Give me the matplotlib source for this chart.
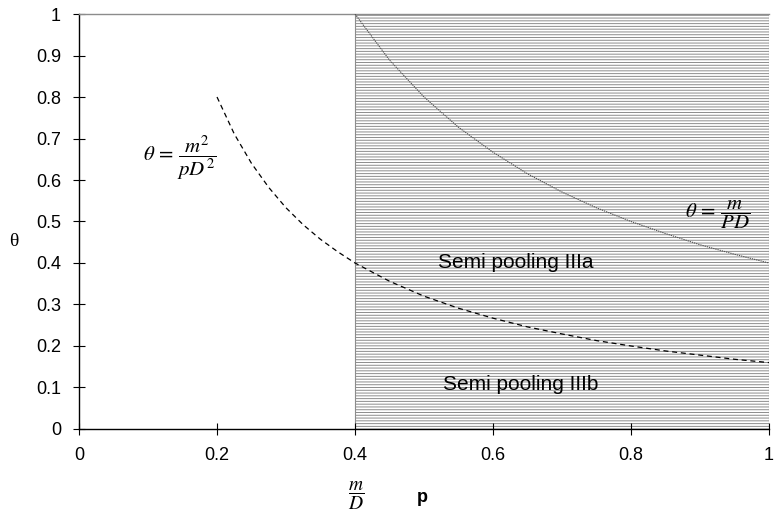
import matplotlib
matplotlib.use("Agg")
import matplotlib.pyplot as plt

plt.rcParams['font.family'] = ['Liberation Sans', 'DejaVu Sans']
plt.rcParams['mathtext.fontset'] = 'stix'
plt.rcParams['hatch.linewidth'] = 0.7
plt.rcParams['hatch.color'] = '#8c8c8c'

# Data
p_lower = [0.2, 0.225, 0.25, 0.275, 0.3, 0.325, 0.35, 0.375, 0.4, 0.45, 0.5, 0.55,
           0.6, 0.65, 0.7, 0.75, 0.8, 0.85, 0.9, 0.95, 1.0]
theta_lower = [0.8, 0.711, 0.64, 0.582, 0.533, 0.492, 0.457, 0.427, 0.4, 0.356, 0.32,
               0.291, 0.267, 0.246, 0.229, 0.213, 0.2, 0.188, 0.178, 0.168, 0.16]
p_upper = [0.4, 0.45, 0.5, 0.55, 0.6, 0.65, 0.7, 0.75, 0.8, 0.85, 0.9, 0.95, 1.0]
theta_upper = [1.0, 0.889, 0.8, 0.727, 0.667, 0.615, 0.571, 0.533, 0.5, 0.471, 0.444,
               0.421, 0.4]
region_x = [0.4, 1.0]
region_y = [0.0, 1.0]
x_ticks = [0, 0.2, 0.4, 0.6, 0.8, 1]
x_labels = ['0', '0.2', '0.4', '0.6', '0.8', '1']
y_ticks = [0, 0.1, 0.2, 0.3, 0.4, 0.5, 0.6, 0.7, 0.8, 0.9, 1]
y_labels = ['0', '0.1', '0.2', '0.3', '0.4', '0.5', '0.6', '0.7', '0.8', '0.9', '1']

fig = plt.figure(figsize=(7.77, 5.25), dpi=100)
ax = fig.add_axes([0.1017, 0.1829, 0.888, 0.7904])

ax.fill_between(region_x, region_y[0], region_y[1], facecolor='white',
                edgecolor='#8c8c8c', hatch='------', linewidth=0.8, zorder=1)

ax.plot(p_upper, theta_upper, color='#555555', linewidth=0.8,
        linestyle=(0, (1.2, 0.8)), zorder=3)
ax.plot(p_lower, theta_lower, color='black', linewidth=0.9,
        linestyle=(0, (4, 3)), zorder=3)

ax.set_xlim(0, 1)
ax.set_ylim(0, 1)
ax.set_xticks(x_ticks)
ax.set_xticklabels(x_labels)
ax.set_yticks(y_ticks)
ax.set_yticklabels(y_labels)
ax.tick_params(axis='both', direction='inout', length=8, width=0.8,
               labelsize=13, colors='black')
ax.tick_params(axis='x', pad=9)
ax.tick_params(axis='y', pad=9)

for s in ['left', 'bottom']:
    ax.spines[s].set_color('black')
    ax.spines[s].set_linewidth(1.0)
ax.spines['top'].set_color('#8c8c8c')
ax.spines['top'].set_linewidth(1.0)
ax.spines['right'].set_visible(False)

ax.text(0.146, 0.655, r'$\theta\, =\, \dfrac{m^2}{pD^2}$', fontsize=15,
        ha='center', va='center')
ax.text(0.926, 0.516, r'$\theta\, =\, \dfrac{m}{PD}$', fontsize=15,
        ha='center', va='center')
ax.text(0.633, 0.402, 'Semi pooling IIIa', fontsize=15, ha='center', va='center')
ax.text(0.64, 0.108, 'Semi pooling IIIb', fontsize=15, ha='center', va='center')

fig.text(14 / 777, 1 - 242 / 525, 'θ', fontsize=14, family='Liberation Serif',
         ha='center', va='center')
fig.text(422 / 777, 1 - 498 / 525, 'p', fontsize=13, fontweight='bold',
         ha='center', va='center')
fig.text(356 / 777, 1 - 496 / 525, r'$\dfrac{m}{D}$', fontsize=14,
         ha='center', va='center')

fig.savefig('out.png', dpi=100)
